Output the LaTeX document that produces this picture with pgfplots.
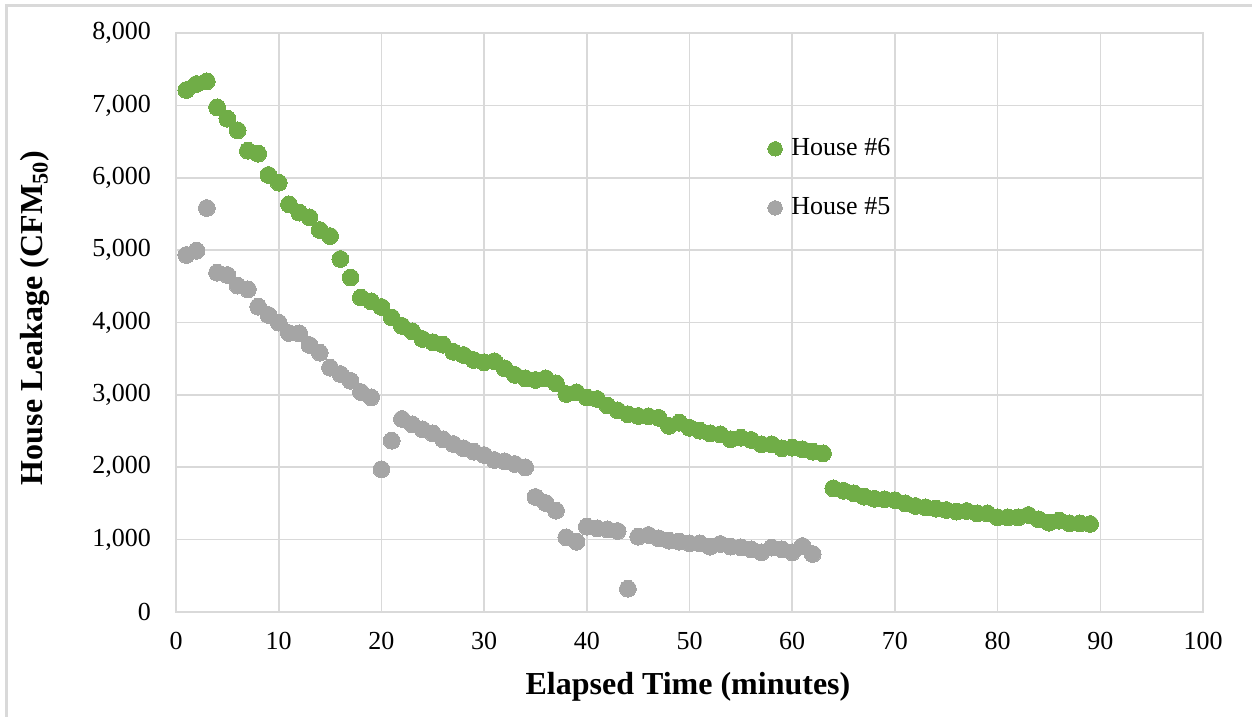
\documentclass[border=0pt]{standalone}
\usepackage{pgfplots}
\pgfplotsset{compat=1.18}
\usepackage{fontspec}
\setmainfont{Liberation Serif}
\definecolor{hgreen}{HTML}{70AD47}
\definecolor{hgray}{HTML}{A5A5A5}
\definecolor{gridc}{HTML}{D9D9D9}
\begin{document}
\begin{tikzpicture}
\useasboundingbox (0,0) rectangle (626bp,358.5bp);
\draw[gridc, line width=1.2bp] (3.3bp,0) -- (3.3bp,355.7bp) -- (626bp,355.7bp);
\begin{axis}[
  at={(88bp,52.5bp)}, anchor=south west,
  scale only axis, width=513.5bp, height=289.5bp,
  xmin=0, xmax=100, ymin=0, ymax=8000,
  xtick={0,10,...,100}, ytick={0,1000,...,8000},
  major tick length=0pt,
  grid=major,
  grid style={gridc, line width=0.8bp},
  axis line style={gridc, line width=0.8bp},
  /pgf/number format/assume math mode=true,
  /pgf/number format/1000 sep={,},
  scaled y ticks=false,
  tick label style={font=\fontsize{13bp}{15bp}\selectfont, black},
  yticklabel style={xshift=-9bp},
  xticklabel style={yshift=-6.5bp},
  xlabel={\textbf{Elapsed Time (minutes)}},
  ylabel={\textbf{House Leakage (CFM\textsubscript{50})}},
  every axis x label/.style={at={(axis description cs:0.4985,-0.1295)}, anchor=center, font=\fontsize{16bp}{19bp}\selectfont},
  every axis y label/.style={at={(axis description cs:-0.1373,0.508)}, anchor=center, rotate=90, font=\fontsize{16bp}{19bp}\selectfont},
  legend style={at={(axis description cs:0.576,0.825)}, anchor=north west, draw=none, fill=none,
    font=\fontsize{13bp}{15bp}\selectfont, row sep=15.5bp, inner sep=0pt,
    /tikz/every odd column/.append style={column sep=2.5bp}},
  legend cell align=left,
  legend image code/.code={\draw[#1, mark size=3.6bp] plot coordinates {(0.06cm,0cm)};},
]
\addplot[only marks, mark=*, mark size=4.2bp, color=hgreen, mark options={draw=hgreen, fill=hgreen, line width=0pt}] coordinates {
(1,7212)(2,7295)(3,7333)(4,6973)(5,6816)(6,6655)(7,6374)(8,6333)(9,6038)(10,5932)
(11,5633)(12,5518)(13,5453)(14,5278)(15,5195)(16,4877)(17,4622)(18,4345)(19,4292)(20,4215)
(21,4070)(22,3954)(23,3878)(24,3772)(25,3728)(26,3694)(27,3595)(28,3551)(29,3482)(30,3450)
(31,3465)(32,3367)(33,3275)(34,3229)(35,3206)(36,3229)(37,3160)(38,3012)(39,3035)(40,2963)
(41,2943)(42,2853)(43,2786)(44,2733)(45,2708)(46,2704)(47,2683)(48,2572)(49,2616)(50,2545)
(51,2505)(52,2469)(53,2455)(54,2386)(55,2408)(56,2377)(57,2317)(58,2317)(59,2261)(60,2270)
(61,2248)(62,2215)(63,2192)(64,1709)(65,1675)(66,1640)(67,1594)(68,1564)(69,1557)(70,1545)
(71,1502)(72,1465)(73,1446)(74,1428)(75,1409)(76,1386)(77,1396)(78,1363)(79,1363)(80,1308)
(81,1308)(82,1308)(83,1340)(84,1280)(85,1234)(86,1262)(87,1225)(88,1225)(89,1216)
};
\addlegendentry{House \#6}
\addplot[only marks, mark=*, mark size=4.2bp, color=hgray, mark options={draw=hgray, fill=hgray, line width=0pt}] coordinates {
(1,4933)(2,4992)(3,5582)(4,4688)(5,4656)(6,4509)(7,4458)(8,4219)(9,4104)(10,3998)
(11,3855)(12,3850)(13,3689)(14,3583)(15,3376)(16,3288)(17,3194)(18,3040)(19,2966)(20,1972)
(21,2367)(22,2667)(23,2593)(24,2524)(25,2469)(26,2386)(27,2321)(28,2261)(29,2215)(30,2169)
(31,2100)(32,2082)(33,2045)(34,1999)(35,1590)(36,1506)(37,1400)(38,1032)(39,971)(40,1179)
(41,1156)(42,1142)(43,1119)(44,322)(45,1041)(46,1064)(47,1018)(48,985)(49,971)(50,949)
(51,949)(52,903)(53,940)(54,903)(55,894)(56,866)(57,825)(58,889)(59,866)(60,825)
(61,912)(62,801)
};
\addlegendentry{House \#5}
\end{axis}
\end{tikzpicture}
\end{document}
